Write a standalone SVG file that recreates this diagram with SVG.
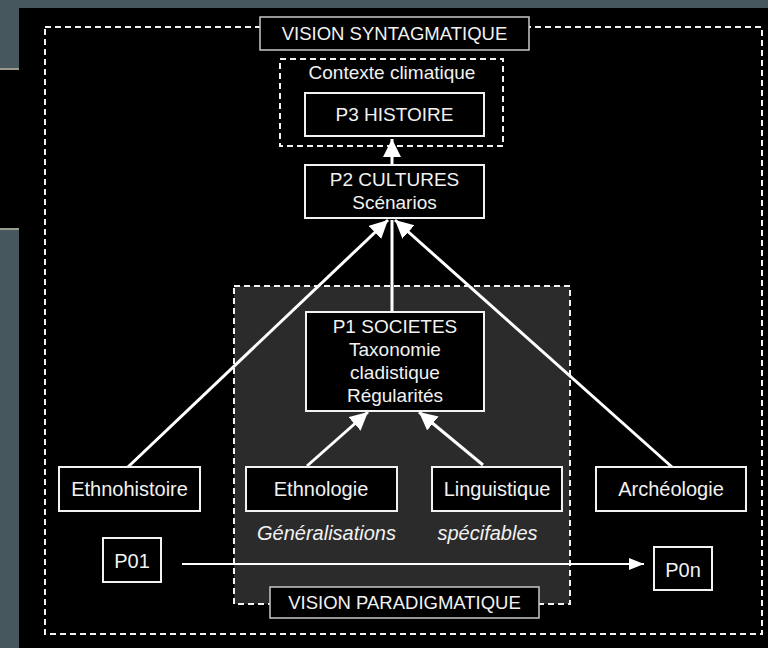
<svg xmlns="http://www.w3.org/2000/svg" width="768" height="648" viewBox="0 0 768 648">
<defs>
<style>
.t{font-family:"Liberation Sans",Arial,Helvetica,sans-serif;font-size:19px;fill:#f2f2f2;text-anchor:middle}
.ti{font-style:italic;font-size:20px}
.tb{font-size:20px}
.tv{font-size:18.5px}
.box{fill:#000;stroke:#f2f2f2;stroke-width:2}
.vbox{fill:#000;stroke:#c8c8c8;stroke-width:1.5}
.dash{stroke:#f2f2f2;stroke-width:2;stroke-dasharray:6 4}
.con{stroke:#fff;stroke-width:3;fill:none}
.thin{stroke:#fff;stroke-width:2;fill:none}
</style>
<marker id="ah" markerUnits="userSpaceOnUse" markerWidth="22" markerHeight="20" refX="18" refY="9" orient="auto">
<path d="M0,0 L18,9 L0,18 z" fill="#fff"/>
</marker>
<marker id="ahs" markerUnits="userSpaceOnUse" markerWidth="18" markerHeight="14" refX="15" refY="6" orient="auto">
<path d="M0,0 L15,6 L0,12 z" fill="#fff"/>
</marker>
</defs>
<rect x="0" y="0" width="768" height="648" fill="#46575e"/>
<rect x="19" y="8" width="749" height="640" fill="#000"/>
<rect x="0" y="68" width="19" height="162" fill="#000"/>
<rect x="0" y="68" width="19" height="2" fill="#9a9b8c"/>
<rect x="0" y="228" width="19" height="2" fill="#9a9b8c"/>
<g id="outer-frame">
<rect x="45" y="27" width="717" height="607" fill="none" class="dash"/>
</g>
<g id="paradigmatique-region">
<rect x="234" y="286" width="336" height="318" fill="#2b2b2b" class="dash"/>
</g>
<g id="contexte-climatique">
<rect x="280" y="59" width="223" height="87" fill="#000" class="dash"/>
<text class="t" x="392" y="79">Contexte climatique</text>
</g>
<g id="connectors">
<line class="con" x1="392" y1="165" x2="392" y2="139" marker-end="url(#ah)"/>
<line class="con" x1="128" y1="467" x2="388" y2="220" marker-end="url(#ah)"/>
<line class="con" x1="392" y1="312" x2="392" y2="220"/>
<line class="con" x1="672" y1="467" x2="395" y2="220" marker-end="url(#ah)"/>
<line class="con" x1="307" y1="466" x2="368" y2="412" marker-end="url(#ah)"/>
<line class="con" x1="483" y1="465" x2="419" y2="412" marker-end="url(#ah)"/>
<line class="thin" x1="182" y1="564" x2="644" y2="564" marker-end="url(#ahs)"/>
</g>
<g id="vision-syntagmatique">
<rect class="vbox" x="260" y="17" width="269" height="33"/>
<text class="t tv" x="394.5" y="39.5">VISION SYNTAGMATIQUE</text>
</g>
<g id="p3">
<rect class="box" x="305" y="93" width="179" height="43"/>
<text class="t" x="394.5" y="120.5">P3 HISTOIRE</text>
</g>
<g id="p2">
<rect class="box" x="305" y="165" width="179" height="53"/>
<text class="t" x="394.5" y="186">P2 CULTURES</text>
<text class="t" x="394.5" y="209">Scénarios</text>
</g>
<g id="p1">
<rect class="box" x="306" y="312" width="178" height="99"/>
<text class="t" x="395" y="333">P1 SOCIETES</text>
<text class="t" x="395" y="356">Taxonomie</text>
<text class="t" x="395" y="379">cladistique</text>
<text class="t" x="395" y="402">Régularités</text>
</g>
<g id="ethnohistoire">
<rect class="box" x="59" y="467" width="141" height="44"/>
<text class="t tb" x="129.5" y="496">Ethnohistoire</text>
</g>
<g id="ethnologie">
<rect class="box" x="246" y="467" width="151" height="44"/>
<text class="t tb" x="321" y="496">Ethnologie</text>
</g>
<g id="linguistique">
<rect class="box" x="432" y="467" width="130" height="44"/>
<text class="t tb" x="497" y="496">Linguistique</text>
</g>
<g id="archeologie">
<rect class="box" x="596" y="467" width="150" height="44"/>
<text class="t tb" x="671" y="495.5">Archéologie</text>
</g>
<g id="generalisations">
<text class="t ti" x="326.5" y="540">Généralisations</text>
</g>
<g id="specifables">
<text class="t ti" x="487.5" y="540">spécifables</text>
</g>
<g id="p01">
<rect class="box" x="103" y="538" width="58" height="44"/>
<text class="t tb" x="132" y="568">P01</text>
</g>
<g id="p0n">
<rect class="box" x="654" y="547" width="58" height="43"/>
<text class="t tb" x="683" y="576.5">P0n</text>
</g>
<g id="vision-paradigmatique">
<rect class="vbox" x="270" y="587" width="269" height="31"/>
<text class="t tv" x="404.5" y="608.5">VISION PARADIGMATIQUE</text>
</g>
</svg>
